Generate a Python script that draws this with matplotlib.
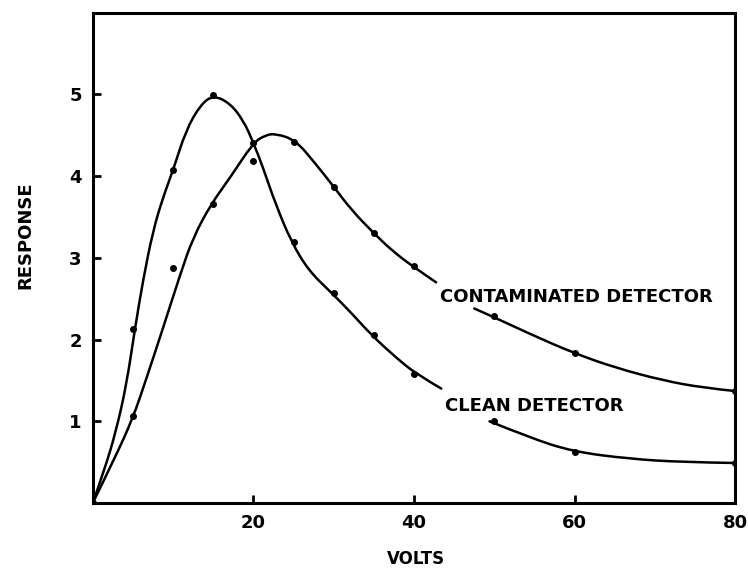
import numpy as np
import matplotlib
matplotlib.use("Agg")
import matplotlib.pyplot as plt
from matplotlib.path import Path
from matplotlib.patches import PathPatch

# measured points (volts, response)
clean_v = [0, 5, 10, 15, 20, 25, 30, 35, 40, 50, 60, 80]
clean_r = [0, 2.13, 4.07, 4.99, 4.41, 3.19, 2.57, 2.05, 1.58, 1.00, 0.63, 0.49]
contam_v = [0, 5, 10, 15, 20, 25, 30, 35, 40, 50, 60, 80]
contam_r = [0, 1.07, 2.87, 3.66, 4.18, 4.42, 3.87, 3.30, 2.90, 2.29, 1.83, 1.37]

# hand-drawn fitted curves (broken around the labels)
clean_curve_v = [0, 1.5, 2.9, 4.2, 5.25, 6.25, 7.5, 8.75, 10, 11.6, 13.4, 15, 17.1, 18.75,
                 20, 21.25, 22.75, 24.75, 26.9, 29.75, 32.25, 34.75, 37.75, 40.25, 43.4]
clean_curve_r = [0, 0.42, 0.88, 1.45, 2.13, 2.72, 3.33, 3.74, 4.07, 4.56, 4.87, 4.99, 4.89, 4.68,
                 4.41, 4.09, 3.66, 3.19, 2.84, 2.57, 2.32, 2.05, 1.78, 1.58, 1.40]
clean_tail_v = [49.4, 54.4, 59.75, 66.9, 73.5, 80]
clean_tail_r = [1.00, 0.80, 0.63, 0.54, 0.50, 0.49]

contam_curve_v = [0, 2.75, 5, 6.6, 8.75, 10.9, 12.5, 14.75, 17.1, 20, 21.5, 22.75, 25.25,
                  27.75, 30, 32.25, 35, 37.25, 39.75, 42.75]
contam_curve_r = [0, 0.55, 1.04, 1.5, 2.14, 2.8, 3.25, 3.66, 3.98, 4.41, 4.50, 4.52, 4.44,
                  4.15, 3.87, 3.58, 3.30, 3.09, 2.90, 2.70]
contam_tail_v = [47.5, 49.6, 54.4, 60, 65.25, 71, 76, 80]
contam_tail_r = [2.38, 2.29, 2.07, 1.83, 1.65, 1.50, 1.41, 1.37]

x_ticks = [20, 40, 60, 80]
y_ticks = [1, 2, 3, 4, 5]


def smooth_path(xs, ys):
    # quadratic bezier pieces: traced points as control points, midpoints as joins
    pts = np.column_stack([xs, ys])
    verts = [pts[0]]
    codes = [Path.MOVETO]
    for i in range(1, len(pts) - 1):
        end = pts[i + 1] if i == len(pts) - 2 else (pts[i] + pts[i + 1]) / 2
        verts += [pts[i], end]
        codes += [Path.CURVE3, Path.CURVE3]
    if len(pts) == 2:
        verts.append(pts[1])
        codes.append(Path.LINETO)
    return Path(verts, codes)


fig = plt.figure(figsize=(7.48, 5.71), dpi=100)
ax = fig.add_axes([0.124, 0.119, 0.859, 0.859])

for v, r in [(clean_curve_v, clean_curve_r), (clean_tail_v, clean_tail_r),
             (contam_curve_v, contam_curve_r), (contam_tail_v, contam_tail_r)]:
    ax.add_patch(PathPatch(smooth_path(v, r), facecolor='none', edgecolor='black',
                           lw=1.8, capstyle='round', joinstyle='round'))

ax.plot(clean_v, clean_r, 'o', color='black', ms=4)
ax.plot(contam_v, contam_r, 'o', color='black', ms=4)

ax.text(43.2, 2.52, 'CONTAMINATED DETECTOR', fontsize=13, fontweight='bold',
        ha='left', va='center')
ax.text(43.8, 1.19, 'CLEAN DETECTOR', fontsize=13, fontweight='bold',
        ha='left', va='center')

ax.set_xlim(0, 80)
ax.set_ylim(0, 6)
ax.set_xticks(x_ticks)
ax.set_yticks(y_ticks)
ax.tick_params(direction='in', length=6, width=2, labelsize=13, pad=8)
for lab in ax.get_xticklabels() + ax.get_yticklabels():
    lab.set_fontweight('bold')
for s in ax.spines.values():
    s.set_linewidth(2.2)

fig.text(0.556, 0.006, 'VOLTS', fontsize=12, fontweight='bold', ha='center', va='bottom')
fig.text(0.034, 0.588, 'RESPONSE', fontsize=13, fontweight='bold', rotation=90,
         ha='center', va='center')

fig.savefig('out.png', dpi=100)
